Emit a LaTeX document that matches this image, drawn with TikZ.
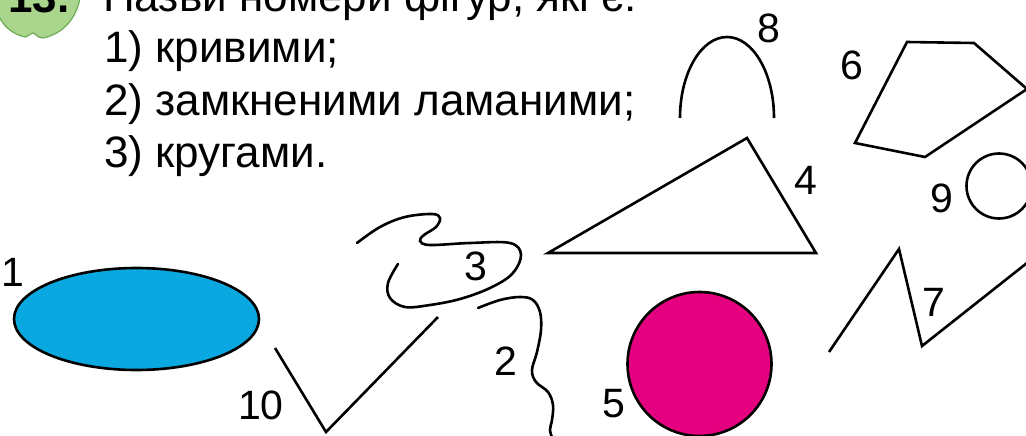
\documentclass[tikz,border=0pt]{standalone}
\usepackage{fontspec}
\setmainfont{Liberation Sans}
\definecolor{ecyan}{HTML}{0AA8E0}
\definecolor{emag}{HTML}{E5007F}
\definecolor{appfill}{HTML}{A9D68C}
\definecolor{appline}{HTML}{6EAA55}
\begin{document}
\begin{tikzpicture}[x=1pt,y=-1pt,
  fig/.style={draw=black, line width=2.6pt},
  crv/.style={draw=black, line width=2.6pt, line cap=round},
  lbl/.style={font=\fontsize{41}{41}\selectfont, inner sep=0pt},
  txt/.style={font=\fontsize{44}{52}\selectfont, anchor=base west, inner sep=0pt}]
\clip (0,0) rectangle (1026,436);
% badge
\path[fill=appfill, draw=appline, line width=1.2pt]
  (-4,-2) -- (-4,10) .. controls (2,26) and (12,34) .. (25,37)
  .. controls (29,36) and (31,33) .. (33,33)
  .. controls (36,34) and (38,38) .. (43,38)
  .. controls (62,34) and (76,20) .. (80,-2) -- cycle;
\node[font=\bfseries\fontsize{44}{44}\selectfont, anchor=base west, inner sep=0pt] (num) at (8,13) {13.};
% texts
\node[txt] (t0) at (103,12) {Назви номери фігур, які є:};
\node[txt] (t1) at (104,63) {1) кривими;};
\node[txt] (t2) at (104,115) {2) замкненими ламаними;};
\node[txt] (t3) at (104,167) {3) кругами.};
% 1 ellipse
\draw[fig, fill=ecyan] (136.5,319) ellipse [x radius=122.5, y radius=51];
\node[lbl] (l1) at (13,272) {1};
% 10 check
\draw[fig] (275,348) -- (326,432) -- (438,317);
\node[lbl] (l10) at (261,405) {10};
% 3 curve
\draw[crv] plot[smooth, tension=0.6] coordinates {(357,243) (380,227) (405,217) (432,214) (440,218) (436,227) (424,235) (420,241) (430,245) (470,243) (510,243) (521,255) (512,274) (490,288) (460,299) (430,305) (405,307) (390,298) (388,283) (398,264)};
\node[lbl] (l3) at (476,266) {3};
% 2 curve
\draw[crv] plot[smooth, tension=0.6] coordinates {(478,308) (500,300) (520,297) (533,300) (540,312) (541,330) (537,352) (532,370) (536,382) (548,392) (553,405) (552,420) (550,430) (553,440)};
\node[lbl] (l2) at (506,361) {2};
% 4 triangle
\draw[fig] (548,253) -- (747,138) -- (816,253) -- cycle;
\node[lbl] (l4) at (806,180) {4};
% 5 circle
\draw[fig, fill=emag] (699.5,364) circle [radius=72];
\node[lbl] (l5) at (614,404) {5};
% 8 arch
\draw[fig] (680,118) arc[start angle=180, end angle=360, x radius=47, y radius=81];
\node[lbl] (l8) at (769,28) {8};
% 6 pentagon
\draw[fig] (907,42) -- (974,43) -- (1027,89) -- (925,157) -- (855,143) -- cycle;
\node[lbl] (l6) at (852,65) {6};
% 9 circle
\draw[fig] (999,186) circle [radius=32.5];
\node[lbl] (l9) at (942,198) {9};
% 7 zigzag
\draw[fig] (829,352) -- (899,249) -- (922,346) -- (1032,259);
\node[lbl] (l7) at (934,302) {7};
\end{tikzpicture}
\end{document}
